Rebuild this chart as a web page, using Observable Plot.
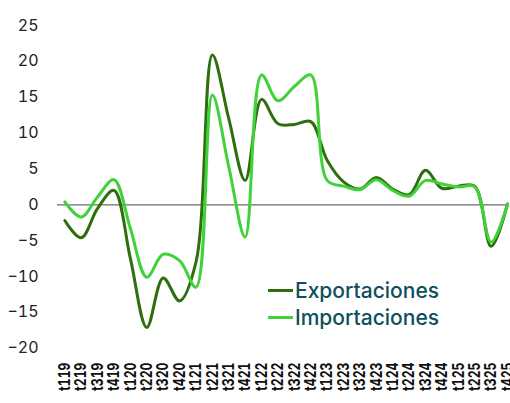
<!DOCTYPE html>
<html>
<head>
<meta charset="utf-8">
<script src="https://cdn.jsdelivr.net/npm/d3@7"></script>
<script src="https://cdn.jsdelivr.net/npm/@observablehq/plot@0.6"></script>
<style>
  html, body { margin: 0; padding: 0; background: #fff; }
  #chart { position: relative; width: 510px; height: 403px; }
  #legend { position: absolute; left: 268px; top: 277px; font-family: Inter, "Noto Sans", sans-serif; font-size: 21px; font-weight: 500; color: #0d4f5c; }
  #legend div { display: flex; align-items: center; height: 27px; }
  #legend span.sw { display: inline-block; width: 25px; height: 3px; margin-right: 2px; }
</style>
</head>
<body>
<div id="chart"></div>
<script>
// Quarterly year-on-year change (%), Q1 2019 to Q4 2025
const quarters = ["t119","t219","t319","t419","t120","t220","t320","t420","t121","t221","t321","t421",
  "t122","t222","t322","t422","t123","t223","t323","t423","t124","t224","t324","t424","t125","t225","t325","t425"];
const exportaciones = [-2.2, -4.6, -0.5, 2.0, -7.5, -17.1, -10.2, -13.4, -8.0, 20.9, 12.0, 3.4,
  14.7, 11.3, 11.2, 11.6, 6.2, 3.2, 2.2, 3.8, 2.2, 1.4, 4.8, 2.3, 2.6, 2.6, -5.8, 0.1];
const importaciones = [0.4, -1.7, 1.1, 3.5, -3.3, -10.1, -6.9, -7.8, -11.5, 15.3, 5.3, -4.5,
  18.1, 14.5, 16.5, 18.1, 3.4, 2.6, 2.1, 3.5, 2.0, 1.2, 3.4, 2.9, 2.5, 2.5, -5.2, 0.1];
const yTicks = [-20, -15, -10, -5, 0, 5, 10, 15, 20, 25];
const seriesNames = ["Exportaciones", "Importaciones"];
const seriesColors = ["#2f6e0c", "#3fd23a"];

// one row per quarter and series; x is the quarter's position in the list
const rows = [];
quarters.forEach((q, i) => {
  rows.push({i, serie: seriesNames[0], v: exportaciones[i]});
  rows.push({i, serie: seriesNames[1], v: importaciones[i]});
});

const chart = Plot.plot({
  width: 510,
  height: 403,
  marginLeft: 57,
  marginRight: 2,
  marginTop: 25,
  marginBottom: 55,
  style: {fontFamily: "Inter, 'Noto Sans', sans-serif", background: "#fff"},
  x: {type: "linear", domain: [0, quarters.length - 1], range: [64.3, 507], label: null},
  y: {domain: [-20, 25], range: [347.7, 25], ticks: yTicks, label: null},
  color: {domain: seriesNames, range: seriesColors},
  marks: [
    Plot.axisY({ticks: yTicks, tickSize: 0, tickPadding: 19, fontSize: 16, fill: "#222", label: null}),
    Plot.axisX({ticks: d3.range(quarters.length), tickFormat: (i) => quarters[i], tickSize: 0, tickRotate: -90,
      tickPadding: 14, fontSize: 16.5, fontWeight: 700, fill: "#111", label: null}),
    Plot.ruleY([0], {stroke: "#6b6b6b", strokeWidth: 1.3}),
    Plot.line(rows, {x: "i", y: "v", stroke: "serie", z: "serie", strokeWidth: 3, curve: "catmull-rom"})
  ]
});

// narrow the rotated quarter labels along their length
d3.select(chart).selectAll('g[aria-label="x-axis tick label"] text').each(function() {
  const t = d3.select(this);
  t.attr("transform", (t.attr("transform") || "") + " scale(0.74,1)");
});

const root = document.getElementById("chart");
root.appendChild(chart);

const legend = document.createElement("div");
legend.id = "legend";
seriesNames.forEach((name, i) => {
  const row = document.createElement("div");
  const sw = document.createElement("span");
  sw.className = "sw";
  sw.style.background = seriesColors[i];
  row.appendChild(sw);
  row.appendChild(document.createTextNode(name));
  legend.appendChild(row);
});
root.appendChild(legend);
</script>
</body>
</html>
